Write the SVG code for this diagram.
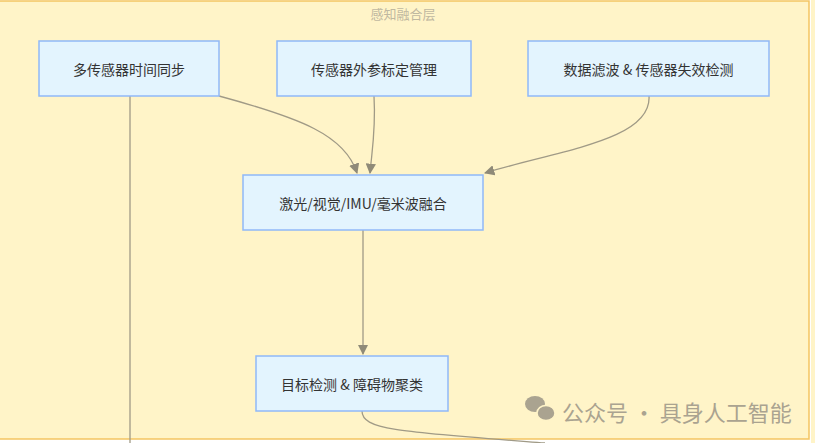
<svg xmlns="http://www.w3.org/2000/svg" width="815" height="443" viewBox="0 0 815 443">
<style>
.n rect{fill:#e3f4fe;stroke:#90b8f8;stroke-width:1.5}
.n text{font-family:"Noto Sans CJK SC","Noto Sans",sans-serif;font-size:14px;fill:#333;text-anchor:middle;dominant-baseline:central}
.e path{fill:none;stroke:#a09a86;stroke-width:1.3}
</style>
<defs><marker id="a" viewBox="0 0 10 10" refX="9" refY="5" markerWidth="8" markerHeight="8" orient="auto"><path d="M0,0L10,5L0,10z" fill="#8f8a78"/></marker></defs>
<rect width="815" height="443" fill="#fff"/>
<rect x="-5" y="1" width="814" height="438" fill="#fff4c8" stroke="#f4c561" stroke-width="1.5"/>
<rect x="811" y="0" width="4" height="443" fill="#fff4c8"/>
<text x="403" y="13" font-family="Noto Sans CJK SC,sans-serif" font-size="13" fill="#bfb8a0" text-anchor="middle" dominant-baseline="central">感知融合层</text>
<g class="e">
<path d="M130,96V443"/>
<path d="M219,96C300,118 345,135 357,173" marker-end="url(#a)"/>
<path d="M374,96C376,130 372,150 370,173" marker-end="url(#a)"/>
<path d="M649,96C652,140 560,150 485,173" marker-end="url(#a)"/>
<path d="M363,230V354" marker-end="url(#a)"/>
<path d="M362,411C362,430 400,432 545,443"/>
</g>
<g id="n1" class="n"><rect x="39" y="41" width="180" height="55"/><text x="129" y="68.5">多传感器时间同步</text></g>
<g id="n2" class="n"><rect x="277" y="41" width="194" height="55"/><text x="374" y="68.5">传感器外参标定管理</text></g>
<g id="n3" class="n"><rect x="528" y="41" width="241" height="55"/><text x="648.5" y="68.5">数据滤波 &amp; 传感器失效检测</text></g>
<g id="n4" class="n"><rect x="243" y="175" width="240" height="55"/><text x="363" y="202.5">激光/视觉/IMU/毫米波融合</text></g>
<g id="n5" class="n"><rect x="256" y="356" width="192" height="55"/><text x="352" y="383.5">目标检测 &amp; 障碍物聚类</text></g>
<g id="wm" fill="#aaa390">
<ellipse cx="535" cy="404" rx="10" ry="8"/><ellipse cx="546" cy="413" rx="9" ry="7.5" stroke="#fff4c8" stroke-width="1.5"/>
<text x="562" y="411" font-family="Noto Sans CJK SC,sans-serif" font-size="22" dominant-baseline="central">公众号 · 具身人工智能</text>
</g>
</svg>
